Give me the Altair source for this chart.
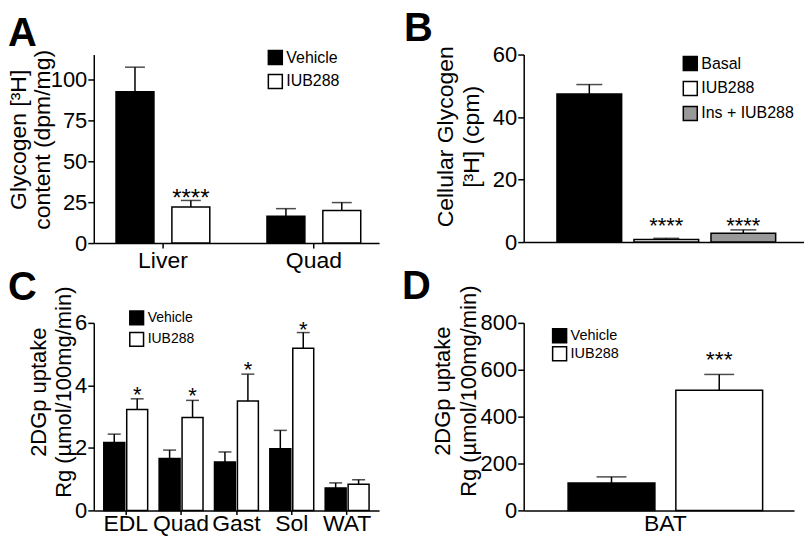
import altair as alt
import pandas as pd

FONT = "Liberation Sans"

# ---------------- data ----------------
# Panel A
a_tissue = ["Liver", "Liver", "Quad", "Quad"]
a_group = ["Vehicle", "IUB288", "Vehicle", "IUB288"]
a_mean = [92.3, 22.0, 16.4, 19.8]
a_err = [107.3, 26.0, 21.0, 24.7]
a_star_tissue = ["Liver"]
a_star_text = ["****"]
a_star_y = [27.3]

# Panel B
b_cond = ["Basal", "IUB288", "Ins + IUB288"]
b_mean = [47.4, 0.8, 2.8]
b_err = [50.4, 1.2, 3.9]
b_star_cond = ["IUB288", "Ins + IUB288"]
b_star_text = ["****", "****"]
b_star_y = [4.5, 4.5]

# Panel C
c_tissues = ["EDL", "Quad", "Gast", "Sol", "WAT"]
c_vehicle = [2.17, 1.66, 1.55, 1.97, 0.72]
c_vehicle_err = [2.44, 1.93, 1.87, 2.56, 0.88]
c_iub = [3.23, 2.97, 3.50, 5.19, 0.84]
c_iub_err = [3.57, 3.52, 4.36, 5.69, 0.98]
c_star_tissue = ["EDL", "Quad", "Gast", "Sol"]
c_star_text = ["*", "*", "*", "*"]
c_star_y = [3.68, 3.66, 4.48, 5.76]

# Panel D
d_tissue = ["BAT", "BAT"]
d_group = ["Vehicle", "IUB288"]
d_mean = [117, 513]
d_err = [143, 580]
d_star_tissue = ["BAT"]
d_star_text = ["***"]
d_star_y = [643]

groups2 = ["Vehicle", "IUB288"]

# ---------------- helpers ----------------
AX = dict(domain=True, domainColor="black", domainWidth=1.5, domainOpacity=1,
          tickColor="black", tickWidth=1.5,
          labelColor="black", labelFont=FONT, titleFont=FONT, titleColor="black",
          titleFontWeight="normal", grid=False)


def y_factory(domain, values, title, tx, ty, lh, tfs=23):
    axis = alt.Axis(values=values, title=title, titleX=tx, titleY=ty, titleLineHeight=lh,
                    titleAngle=270, titleAlign="center", titleBaseline="bottom",
                    titleFontSize=tfs, labelFontSize=22, tickSize=6, labelPadding=1,
                    format="d", **AX)
    scale = alt.Scale(domain=domain, nice=False, zero=True)

    def make(field):
        return alt.Y(f"{field}:Q", scale=scale, axis=axis)
    return make


def legend(lx, ly, fs, rp, size=196):
    return alt.Legend(title=None, orient="none", legendX=lx, legendY=ly, symbolType="square",
                      symbolSize=size, symbolStrokeColor="black", symbolStrokeWidth=1.5,
                      labelFontSize=fs, labelFont=FONT, labelColor="black", labelOffset=3,
                      rowPadding=rp, padding=0)


def panel_title(letter, dx, off):
    return alt.TitleParams(letter, anchor="start", frame="group", fontSize=40, font=FONT,
                           fontWeight="bold", color="black", dx=dx, offset=off)


def dodged(df, x, Y, fill, off, width, cap, stars, star_fs, star_dy):
    layers = []
    for g, o in [("Vehicle", -off), ("IUB288", off)]:
        base = alt.Chart(df).transform_filter(alt.datum.group == g)
        layers.append(base.mark_bar(stroke="black", strokeWidth=1.5, xOffset=o, width=width)
                      .encode(x=x, y=Y("mean"), fill=fill))
        layers.append(base.mark_rule(color="black", strokeWidth=1.5, xOffset=o)
                      .encode(x=x, y=Y("mean"), y2=alt.Y2("err:Q")))
        layers.append(base.mark_tick(color="black", thickness=1.5, size=cap, xOffset=o)
                      .encode(x=x, y=Y("err")))
    layers.append(alt.Chart(stars).mark_text(font=FONT, fontSize=star_fs, baseline="alphabetic",
                                             dy=star_dy, xOffset=off, color="black")
                  .encode(x=x, y=Y("sy"), text="txt:N"))
    return alt.layer(*layers)


# ---------------- Panel A ----------------
dfA = pd.DataFrame({"tissue": a_tissue, "group": a_group, "mean": a_mean, "err": a_err})
dfAs = pd.DataFrame({"tissue": a_star_tissue, "txt": a_star_text, "sy": a_star_y})
xA = alt.X("tissue:N", sort=["Liver", "Quad"],
           scale=alt.Scale(paddingInner=0.37, paddingOuter=0.13, align=0.55),
           axis=alt.Axis(title=None, labelAngle=0, labelFontSize=23, tickSize=5, labelPadding=1, **AX))
YA = y_factory([0, 115], [0, 25, 50, 75, 100], ["Glycogen [³H]", "content (dpm/mg)"], -63, 85, 24)
fillA = alt.Fill("group:N", scale=alt.Scale(domain=groups2, range=["black", "white"]),
                 legend=legend(174, -5, 16, 4))
A = dodged(dfA, xA, YA, fillA, 28, 38, 20, dfAs, 24, 8).properties(
    width=286, height=189, title=panel_title("A", -86, -5))

# ---------------- Panel B ----------------
dfB = pd.DataFrame({"cond": b_cond, "mean": b_mean, "err": b_err})
dfBs = pd.DataFrame({"cond": b_star_cond, "txt": b_star_text, "sy": b_star_y})
xB = alt.X("cond:N", sort=b_cond,
           scale=alt.Scale(paddingInner=0.16, paddingOuter=0.4, align=0.54),
           axis=alt.Axis(title=None, labels=False, ticks=False, tickSize=0, **AX))
YB = y_factory([0, 60], [0, 20, 40, 60], ["Cellular Glycogen", "[³H] (cpm)"], -66, 82, 26)
fillB = alt.Fill("cond:N", scale=alt.Scale(domain=b_cond, range=["black", "white", "#999999"]),
                 legend=legend(159, 1, 16, 5))
B = alt.layer(
    alt.Chart(dfB).mark_bar(stroke="black", strokeWidth=1.5).encode(x=xB, y=YB("mean"), fill=fillB),
    alt.Chart(dfB).mark_rule(color="black", strokeWidth=1.5).encode(x=xB, y=YB("mean"), y2=alt.Y2("err:Q")),
    alt.Chart(dfB).mark_tick(color="black", thickness=1.5, size=26).encode(x=xB, y=YB("err")),
    alt.Chart(dfBs).mark_text(font=FONT, fontSize=22, baseline="alphabetic", dy=5, color="black").encode(
        x=xB, y=YB("sy"), text="txt:N"),
).properties(width=281, height=188, title=panel_title("B", -120, -5))

# ---------------- Panel C ----------------
dfC = pd.DataFrame({
    "tissue": c_tissues * 2,
    "group": ["Vehicle"] * 5 + ["IUB288"] * 5,
    "mean": c_vehicle + c_iub,
    "err": c_vehicle_err + c_iub_err,
})
dfCs = pd.DataFrame({"tissue": c_star_tissue, "txt": c_star_text, "sy": c_star_y})
xC = alt.X("tissue:N", sort=c_tissues,
           scale=alt.Scale(paddingInner=0, paddingOuter=0.077),
           axis=alt.Axis(title=None, labelAngle=0, labelFontSize=23, tickSize=4, labelPadding=-2, **AX))
YC = y_factory([0, 6], [0, 2, 4, 6], ["2DGp uptake", "Rg (µmol/100mg/min)"], -43.7, 69, 25, 22)
fillC = alt.Fill("group:N", scale=alt.Scale(domain=groups2, range=["black", "white"]),
                 legend=legend(35, -13, 14, 1.5, 190))
C = dodged(dfC, xC, YC, fillC, 11.5, 21, 13, dfCs, 22, 7).properties(
    width=286, height=188, title=panel_title("C", -86, -22))

# ---------------- Panel D ----------------
dfD = pd.DataFrame({"tissue": d_tissue, "group": d_group, "mean": d_mean, "err": d_err})
dfDs = pd.DataFrame({"tissue": d_star_tissue, "txt": d_star_text, "sy": d_star_y})
xD = alt.X("tissue:N",
           scale=alt.Scale(paddingInner=0, paddingOuter=0.191, align=0.587),
           axis=alt.Axis(title=None, labelAngle=0, labelFontSize=23, ticks=False, tickSize=0,
                         labelPadding=2, **AX))
YD = y_factory([0, 800], [0, 200, 400, 600, 800], ["2DGp uptake", "Rg (µmol/100mg/min)"], -69.4, 68, 25.7, 22)
fillD = alt.Fill("group:N", scale=alt.Scale(domain=groups2, range=["black", "white"]),
                 legend=legend(28, 5, 14.5, -3))
D = dodged(dfD, xD, YD, fillD, 54, 87, 30, dfDs, 23, 7).properties(
    width=271, height=188, title=panel_title("D", -122, -22))

chart = alt.concat(A, B, C, D, columns=2, spacing={"row": 80, "column": 145}, bounds="flush").resolve_scale(
    fill="independent", x="independent", y="independent"
).resolve_legend(fill="independent").properties(padding=0, background="white").configure_view(stroke=None)

chart.save("out.html", embed_options={"renderer": "svg", "actions": False})
